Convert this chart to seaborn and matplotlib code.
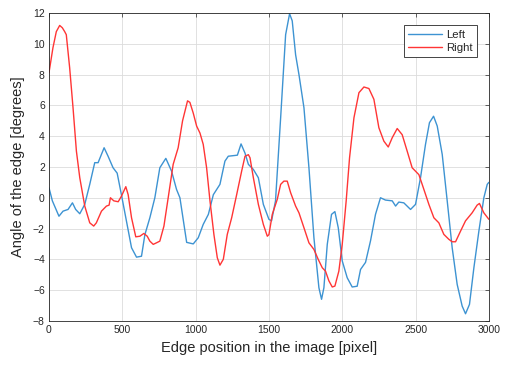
import numpy as np
import pandas as pd
import matplotlib
matplotlib.use("Agg")
import matplotlib.pyplot as plt
import seaborn as sns

left_x = [0, 23, 68, 96, 130, 160, 182, 210, 244, 278, 312, 335, 376, 403, 437, 465, 494, 528, 563, 597, 631,
          654, 688, 722, 756, 797, 836, 870, 893, 939, 984, 1018, 1052, 1087, 1121, 1166, 1200, 1223, 1269,
          1285, 1310, 1337, 1360, 1394, 1428, 1462, 1500, 1518, 1545, 1580, 1614, 1641, 1659, 1682, 1705,
          1739, 1773, 1807, 1841, 1859, 1875, 1898, 1927, 1950, 1973, 2000, 2034, 2068, 2102, 2125, 2159,
          2193, 2227, 2261, 2295, 2341, 2364, 2386, 2420, 2466, 2500, 2534, 2568, 2595, 2623, 2648, 2682,
          2716, 2750, 2784, 2818, 2841, 2868, 2898, 2932, 2966, 2989, 3000]
left_y = [0.65, -0.2, -1.2, -0.87, -0.76, -0.33, -0.76, -1.04, -0.43, 0.87, 2.28, 2.28, 3.25, 2.7, 1.95, 1.6,
          0.2, -1.5, -3.25, -3.86, -3.8, -2.4, -1.3, 0.0, 1.95, 2.56, 1.73, 0.54, 0.0, -2.9, -3.0, -2.6, -1.73,
          -1.08, 0.2, 0.87, 2.38, 2.7, 2.75, 2.77, 3.5, 2.9, 2.17, 1.84, 1.3, -0.43, -1.4, -1.5, -0.2, 5.2,
          10.6, 11.96, 11.5, 9.3, 8.0, 5.85, 1.95, -2.6, -5.85, -6.6, -5.85, -3.03, -1.08, -0.9, -1.95, -4.1,
          -5.2, -5.8, -5.75, -4.66, -4.2, -2.8, -1.08, 0.0, -0.15, -0.2, -0.54, -0.28, -0.33, -0.76, -0.43,
          1.3, 3.47, 4.88, 5.3, 4.66, 2.82, -0.2, -3.25, -5.63, -7.04, -7.54, -6.93, -4.55, -2.17, 0.0, 0.87,
          1.0]

right_x = [0, 27, 50, 73, 91, 107, 118, 141, 164, 187, 210, 244, 278, 305, 323, 358, 392, 410, 419, 442, 472,
           494, 524, 540, 563, 592, 620, 647, 670, 688, 711, 733, 756, 784, 813, 847, 881, 911, 945, 961, 984,
           1007, 1030, 1052, 1075, 1098, 1125, 1148, 1166, 1189, 1216, 1246, 1280, 1314, 1337, 1360, 1371,
           1394, 1428, 1462, 1489, 1500, 1523, 1557, 1580, 1602, 1625, 1648, 1682, 1705, 1739, 1773, 1807,
           1836, 1864, 1886, 1909, 1932, 1950, 1977, 2000, 2027, 2050, 2080, 2114, 2148, 2182, 2216, 2250,
           2284, 2314, 2341, 2375, 2409, 2443, 2477, 2523, 2557, 2591, 2625, 2659, 2693, 2727, 2750, 2773,
           2807, 2841, 2886, 2920, 2936, 2966, 3000]
right_y = [8.13, 9.75, 10.8, 11.2, 11.05, 10.8, 10.6, 8.45, 5.85, 3.03, 1.3, -0.54, -1.63, -1.84, -1.63,
           -0.87, -0.54, -0.48, 0.0, -0.2, -0.26, 0.1, 0.72, 0.2, -1.3, -2.54, -2.5, -2.32, -2.5, -2.82, -3.03,
           -2.93, -2.82, -1.84, 0.0, 2.17, 3.25, 5.0, 6.3, 6.2, 5.5, 4.66, 4.2, 3.47, 1.95, -0.2, -2.4, -3.9,
           -4.38, -4.0, -2.38, -1.3, 0.2, 1.73, 2.7, 2.8, 2.6, 1.3, -0.43, -1.73, -2.5, -2.4, -1.08, -0.1, 0.87,
           1.08, 1.08, 0.33, -0.54, -0.98, -1.95, -2.93, -3.36, -4.0, -4.55, -4.77, -5.4, -5.8, -5.74, -4.77,
           -3.03, -0.2, 2.6, 5.2, 6.83, 7.2, 7.1, 6.4, 4.55, 3.68, 3.3, 3.9, 4.5, 4.1, 3.03, 1.95, 1.5, 0.54,
           -0.43, -1.3, -1.63, -2.38, -2.7, -2.86, -2.86, -2.17, -1.5, -0.98, -0.48, -0.37, -0.98, -1.4]

series_names = ["Left", "Right"]
colors = {"Left": "#3d93d2", "Right": "#ff3535"}

df = pd.concat([
    pd.DataFrame({"x": left_x, "y": left_y, "side": "Left"}),
    pd.DataFrame({"x": right_x, "y": right_y, "side": "Right"}),
])

sns.set_style("white")
plt.rcParams["font.family"] = ["Liberation Sans", "DejaVu Sans"]

fig = plt.figure(figsize=(5.05, 3.65), dpi=100)
ax = fig.add_axes([0.097, 0.121, 0.871, 0.843])

sns.lineplot(data=df, x="x", y="y", hue="side", hue_order=series_names, palette=colors,
             linewidth=1.0, sort=False, estimator=None, ax=ax)

ax.set_xlim(0, 3000)
ax.set_ylim(-8, 12)
ax.set_xticks(np.arange(0, 3001, 500))
ax.set_yticks(np.arange(-8, 13, 2))
ax.grid(True, color="#dcdcdc", linewidth=0.6)
ax.set_axisbelow(True)
for s in ax.spines.values():
    s.set_color("#262626")
    s.set_linewidth(0.6)
ax.tick_params(direction="in", length=3, width=0.5, labelsize=7.5, colors="#262626",
               top=True, right=True, pad=3)
ax.set_xlabel("Edge position in the image [pixel]", fontsize=10.5, color="#262626", labelpad=4)
ax.set_ylabel("Angle of the edge [degrees]", fontsize=10.5, color="#262626", labelpad=6)

leg = ax.legend(loc="upper right", fontsize=8.2, frameon=True, fancybox=False,
                edgecolor="#262626", framealpha=1, handlelength=3.0, borderpad=0.4,
                labelspacing=0.25, handletextpad=0.3, borderaxespad=0,
                bbox_to_anchor=(0.973, 0.961))
leg.get_frame().set_linewidth(0.6)
for h in leg.get_lines():
    h.set_linewidth(1.0)

fig.savefig("out.png", dpi=100)
